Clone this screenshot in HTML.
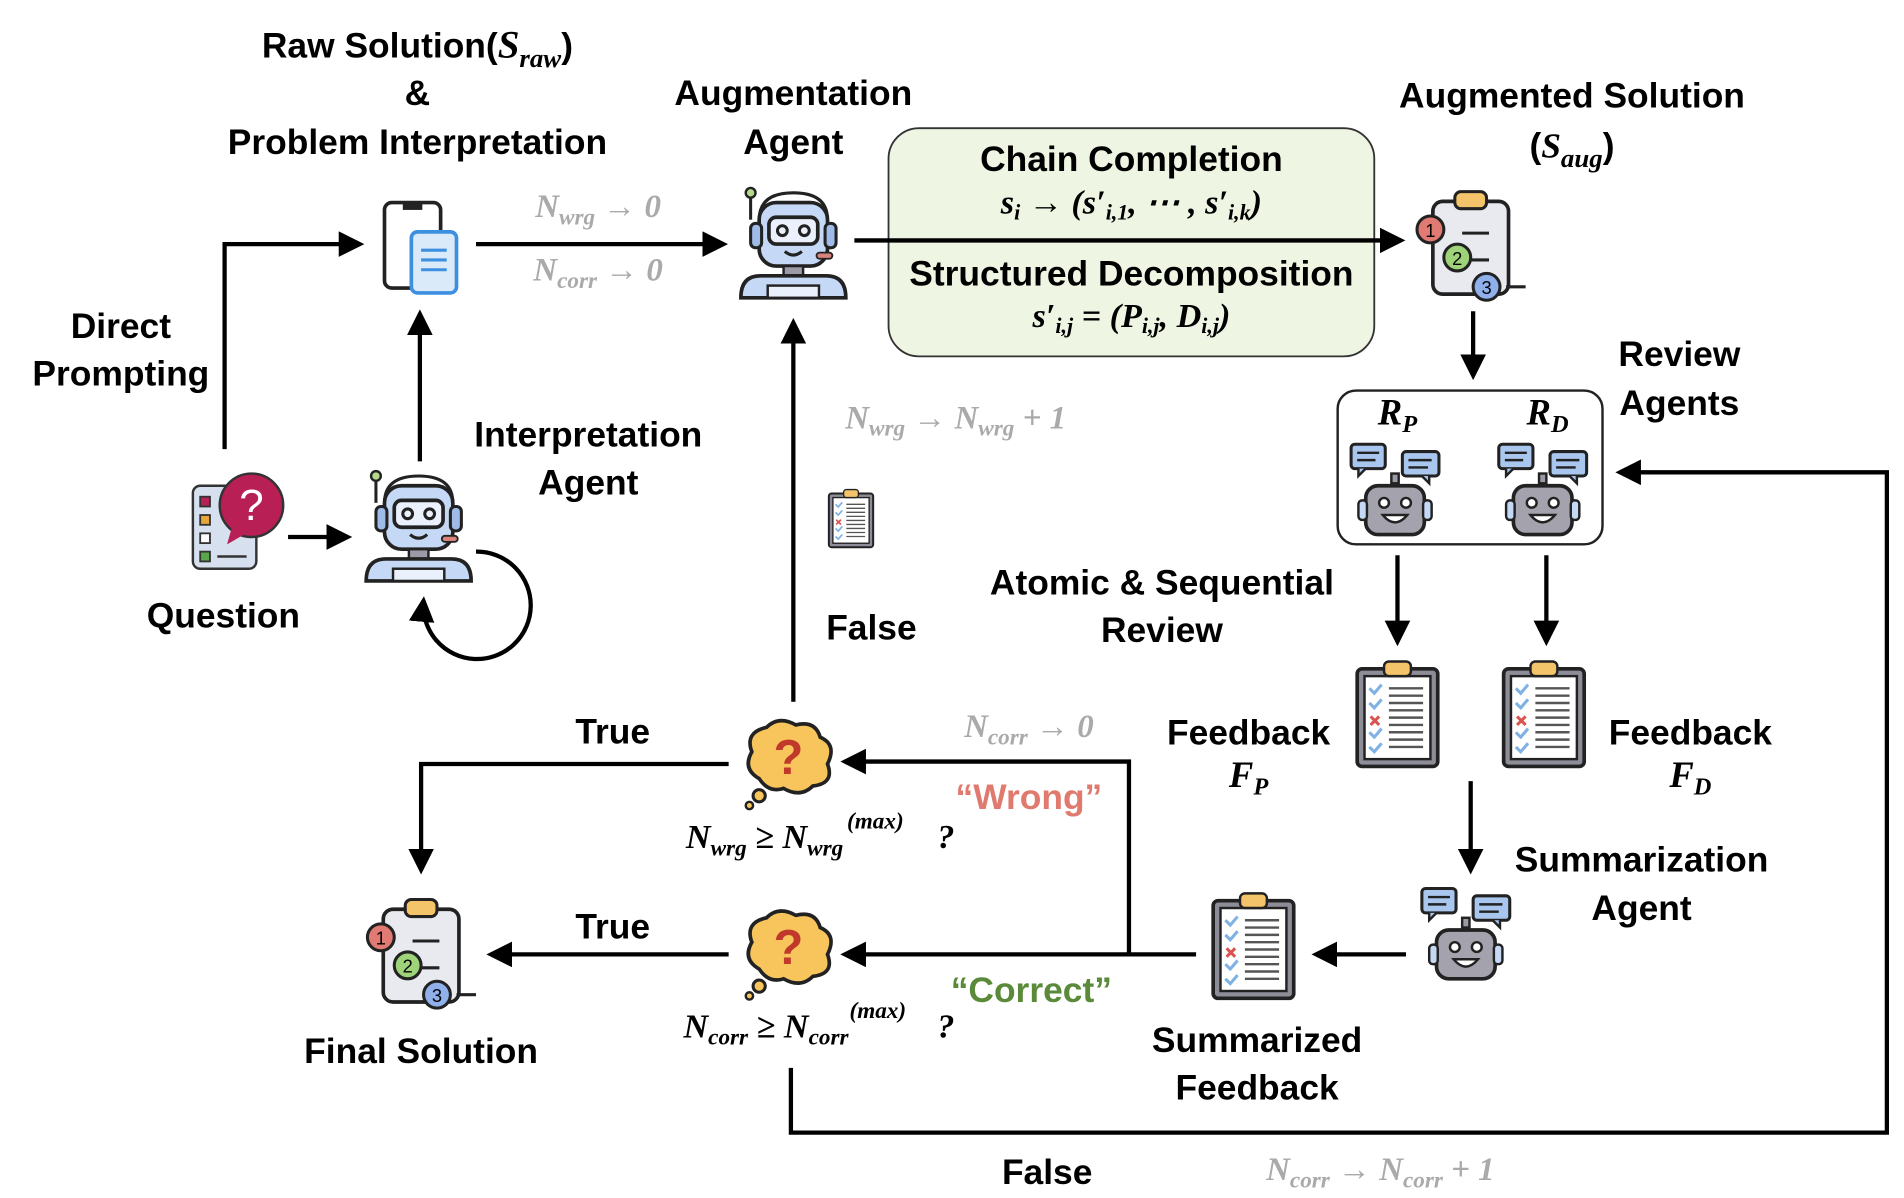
<!DOCTYPE html>
<html><head><meta charset="utf-8"><style>
html,body{margin:0;padding:0;background:#fff;}
svg{display:block;}
.t{font-family:"Comic Sans MS","Liberation Sans",sans-serif;font-size:29px;font-weight:bold;fill:#000;text-anchor:middle;}
.m{font-family:"Liberation Serif",serif;font-style:italic;font-weight:bold;text-anchor:middle;}
.g{fill:#aaa;}
.ln{stroke:#000;stroke-width:3.5;fill:none;}
</style></head><body>
<svg width="1904" height="1198" viewBox="0 0 1560 981.6" xmlns="http://www.w3.org/2000/svg">
<defs>
<marker id="ar" markerWidth="6" markerHeight="6" refX="5" refY="3" orient="auto" markerUnits="strokeWidth"><path d="M0,0 L6,3 L0,6 z" fill="#000"/></marker>
<g id="robot">
 <line x1="10" y1="12" x2="10" y2="30" stroke="#222" stroke-width="2.5"/>
 <circle cx="10" cy="8" r="4" fill="#b7d98b" stroke="#222" stroke-width="2"/>
 <path d="M17,30 Q17,8 45,8 Q73,8 73,30" fill="none" stroke="#222" stroke-width="2.5"/>
 <rect x="17" y="16" width="56" height="52" rx="14" fill="#c5d8f5" stroke="#222" stroke-width="3"/>
 <rect x="10" y="33" width="9" height="20" rx="4" fill="#9fbbe8" stroke="#222" stroke-width="2.5"/>
 <rect x="71" y="33" width="9" height="20" rx="4" fill="#9fbbe8" stroke="#222" stroke-width="2.5"/>
 <rect x="25" y="28" width="40" height="22" rx="6" fill="#eaf1fc" stroke="#222" stroke-width="3"/>
 <circle cx="36" cy="39" r="4" fill="none" stroke="#222" stroke-width="2.5"/>
 <circle cx="54" cy="39" r="4" fill="none" stroke="#222" stroke-width="2.5"/>
 <path d="M38,56 Q45,62 52,56" fill="none" stroke="#222" stroke-width="2.5"/>
 <rect x="64" y="57" width="13" height="5" rx="2.5" fill="#d8847c" stroke="#222" stroke-width="1.5"/>
 <rect x="37" y="68" width="16" height="8" fill="#9d9aa8" stroke="#222" stroke-width="2"/>
 <path d="M2,94 Q2,76 18,76 L72,76 Q88,76 88,94 Z" fill="#c5d8f5" stroke="#222" stroke-width="3"/>
 <rect x="24" y="84" width="42" height="10" fill="#eaf1fc" stroke="#222" stroke-width="2"/>
</g>
<g id="grob">
 <rect x="2" y="2" width="28" height="20" rx="3" fill="#a9c6ee" stroke="#222" stroke-width="2.5"/>
 <path d="M8,22 L8,28 L14,22" fill="#a9c6ee" stroke="#222" stroke-width="2"/>
 <line x1="7" y1="9" x2="25" y2="9" stroke="#222" stroke-width="2"/><line x1="7" y1="15" x2="22" y2="15" stroke="#222" stroke-width="2"/>
 <rect x="44" y="8" width="30" height="20" rx="3" fill="#a9c6ee" stroke="#222" stroke-width="2.5"/>
 <path d="M66,28 L66,34 L60,28" fill="#a9c6ee" stroke="#222" stroke-width="2"/>
 <line x1="49" y1="15" x2="68" y2="15" stroke="#222" stroke-width="2"/><line x1="49" y1="21" x2="65" y2="21" stroke="#222" stroke-width="2"/>
 <rect x="35" y="26" width="6" height="8" fill="#9d9aa8" stroke="#222" stroke-width="2"/>
 <rect x="14" y="36" width="48" height="40" rx="10" fill="#a4a3ad" stroke="#222" stroke-width="3"/>
 <rect x="8" y="48" width="7" height="16" rx="3" fill="#c5d8f5" stroke="#222" stroke-width="2"/>
 <rect x="61" y="48" width="7" height="16" rx="3" fill="#c5d8f5" stroke="#222" stroke-width="2"/>
 <circle cx="29" cy="50" r="4" fill="#fff" stroke="#222" stroke-width="2"/>
 <circle cx="47" cy="50" r="4" fill="#fff" stroke="#222" stroke-width="2"/>
 <path d="M28,60 Q38,72 48,60 Z" fill="#fff" stroke="#222" stroke-width="2"/>
</g>
<g id="clipnum">
 <rect x="14" y="10" width="62" height="76" rx="8" fill="#e8eaf0" stroke="#222" stroke-width="3"/>
 <rect x="32" y="2" width="26" height="14" rx="5" fill="#f3c46a" stroke="#222" stroke-width="2.5"/>
 <line x1="38" y1="36" x2="60" y2="36" stroke="#222" stroke-width="2.5"/>
 <line x1="38" y1="58" x2="60" y2="58" stroke="#222" stroke-width="2.5"/>
 <circle cx="12" cy="33" r="11" fill="#e07a72" stroke="#222" stroke-width="2.5"/>
 <text x="12" y="39" font-size="15" font-family="Liberation Sans" text-anchor="middle">1</text>
 <circle cx="34" cy="56" r="11" fill="#9fd37a" stroke="#222" stroke-width="2.5"/>
 <text x="34" y="62" font-size="15" font-family="Liberation Sans" text-anchor="middle">2</text>
 <circle cx="58" cy="80" r="11" fill="#8fb0ea" stroke="#222" stroke-width="2.5"/>
 <text x="58" y="86" font-size="15" font-family="Liberation Sans" text-anchor="middle">3</text>
 <line x1="74" y1="80" x2="90" y2="80" stroke="#222" stroke-width="2.5"/>
</g>
<g id="check">
 <rect x="2" y="8" width="66" height="80" rx="4" fill="#8d8d98" stroke="#222" stroke-width="3"/>
 <rect x="8" y="14" width="54" height="68" fill="#fff" stroke="#222" stroke-width="2"/>
 <rect x="24" y="2" width="22" height="12" rx="4" fill="#f3c46a" stroke="#222" stroke-width="2"/>
 <g stroke="#7fb1e3" stroke-width="2.5" fill="none">
  <path d="M12,24 l4,4 l6,-7"/><path d="M12,36 l4,4 l6,-7"/><path d="M12,60 l4,4 l6,-7"/><path d="M12,72 l4,4 l6,-7"/></g>
 <path d="M13,47 l7,7 M20,47 l-7,7" stroke="#d9534f" stroke-width="2.5"/>
 <g stroke="#555" stroke-width="2"><line x1="28" y1="24" x2="56" y2="24"/><line x1="28" y1="30" x2="56" y2="30"/><line x1="28" y1="36" x2="56" y2="36"/><line x1="28" y1="42" x2="56" y2="42"/><line x1="28" y1="48" x2="56" y2="48"/><line x1="28" y1="54" x2="56" y2="54"/><line x1="28" y1="60" x2="56" y2="60"/><line x1="28" y1="66" x2="56" y2="66"/><line x1="28" y1="72" x2="56" y2="72"/></g>
</g>
<g id="bubble">
 <path d="M14,50 Q0,42 8,28 Q2,12 20,8 Q30,-2 44,6 Q60,2 64,16 Q78,22 70,38 Q76,54 58,56 Q48,66 34,58 Q22,62 14,50 Z" fill="#f7c55c" stroke="#222" stroke-width="3"/>
 <circle cx="14" cy="64" r="5" fill="#f7c55c" stroke="#222" stroke-width="2.5"/>
 <circle cx="6" cy="72" r="3" fill="#f7c55c" stroke="#222" stroke-width="2"/>
 <text x="38" y="46" font-size="40" font-family="Liberation Sans" font-weight="bold" text-anchor="middle" fill="#c0392b">?</text>
</g>
</defs>

<text class="t" x="342" y="47">Raw Solution(<tspan class="m" font-size="32">S</tspan><tspan class="m" font-size="22" dy="8">raw</tspan><tspan dy="-8">)</tspan></text>
<text class="t" x="342" y="86">&amp;</text>
<text class="t" x="342" y="126">Problem Interpretation</text>
<text class="t" x="650" y="86">Augmentation</text>
<text class="t" x="650" y="126">Agent</text>
<text class="t" x="1288" y="88">Augmented Solution</text>
<text class="t" x="1288" y="129">(<tspan class="m">S</tspan><tspan class="m" font-size="22" dy="8">aug</tspan><tspan dy="-8">)</tspan></text>

<rect x="315" y="166" width="46" height="70" rx="6" fill="#fff" stroke="#222" stroke-width="3"/>
<rect x="330" y="166" width="16" height="6" fill="#222"/>
<rect x="337" y="190" width="37" height="50" rx="5" fill="#dbeaf9" stroke="#3d8fe0" stroke-width="3"/>
<g stroke="#3d8fe0" stroke-width="2.5"><line x1="345" y1="205" x2="366" y2="205"/><line x1="345" y1="213" x2="366" y2="213"/><line x1="345" y1="221" x2="366" y2="221"/></g>

<line class="ln" x1="390" y1="200" x2="593" y2="200" marker-end="url(#ar)"/>
<text class="m g" x="490" y="178" font-size="27">N<tspan font-size="19" dy="6">wrg</tspan><tspan dy="-6"> → 0</tspan></text>
<text class="m g" x="490" y="230" font-size="27">N<tspan font-size="19" dy="6">corr</tspan><tspan dy="-6"> → 0</tspan></text>

<use href="#robot" x="605" y="150"/>

<rect x="728" y="105" width="398" height="187" rx="25" fill="#eef5e3" stroke="#333" stroke-width="1.5"/>
<line class="ln" x1="700" y1="197" x2="1148" y2="197" marker-end="url(#ar)"/>
<text class="t" x="927" y="140" font-size="29">Chain Completion</text>
<text class="m" x="927" y="175" font-size="28">s<tspan font-size="18" dy="5">i</tspan><tspan dy="-5"> → (s′</tspan><tspan font-size="18" dy="5">i,1</tspan><tspan dy="-5">, ⋯ , s′</tspan><tspan font-size="18" dy="5">i,k</tspan><tspan dy="-5">)</tspan></text>
<text class="t" x="927" y="234" font-size="29">Structured Decomposition</text>
<text class="m" x="927" y="268" font-size="28">s′<tspan font-size="18" dy="5">i,j</tspan><tspan dy="-5"> = (P</tspan><tspan font-size="18" dy="5">i,j</tspan><tspan dy="-5">, D</tspan><tspan font-size="18" dy="5">i,j</tspan><tspan dy="-5">)</tspan></text>

<use href="#clipnum" x="1160" y="155"/>
<line class="ln" x1="1207" y1="255" x2="1207" y2="308" marker-end="url(#ar)"/>

<rect x="1096" y="320" width="217" height="126" rx="15" fill="#fff" stroke="#222" stroke-width="2"/>
<text class="m" x="1145" y="348" font-size="30">R<tspan font-size="20" dy="6">P</tspan></text>
<text class="m" x="1268" y="348" font-size="30">R<tspan font-size="20" dy="6">D</tspan></text>
<use href="#grob" x="1105" y="362"/>
<use href="#grob" x="1226" y="362"/>
<text class="t" x="1376" y="300">Review</text>
<text class="t" x="1376" y="340">Agents</text>

<line class="ln" x1="1145" y1="455" x2="1145" y2="526" marker-end="url(#ar)"/>
<line class="ln" x1="1267" y1="455" x2="1267" y2="526" marker-end="url(#ar)"/>
<use href="#check" x="1110" y="540"/>
<use href="#check" x="1230" y="540"/>
<text class="t" x="952" y="487">Atomic &amp; Sequential</text>
<text class="t" x="952" y="526">Review</text>
<text class="t" x="1023" y="610">Feedback</text>
<text class="m" x="1023" y="645" font-size="30">F<tspan font-size="20" dy="6">P</tspan></text>
<text class="t" x="1385" y="610">Feedback</text>
<text class="m" x="1385" y="645" font-size="30">F<tspan font-size="20" dy="6">D</tspan></text>

<line class="ln" x1="1205" y1="640" x2="1205" y2="713" marker-end="url(#ar)"/>
<use href="#grob" x="1163" y="726"/>
<text class="t" x="1345" y="714">Summarization</text>
<text class="t" x="1345" y="754">Agent</text>
<line class="ln" x1="1152" y1="782" x2="1078" y2="782" marker-end="url(#ar)"/>
<use href="#check" x="992" y="730"/>
<text class="t" x="1030" y="862">Summarized</text>
<text class="t" x="1030" y="901">Feedback</text>

<line class="ln" x1="980" y1="782" x2="692" y2="782" marker-end="url(#ar)"/>
<polyline class="ln" points="925,782 925,624 692,624" marker-end="url(#ar)"/>
<text class="m g" x="843" y="604" font-size="27">N<tspan font-size="19" dy="6">corr</tspan><tspan dy="-6"> → 0</tspan></text>
<text class="t" x="843" y="663" style="fill:#e07a6e">“Wrong”</text>
<text class="t" x="845" y="821" style="fill:#5a8a3a">“Correct”</text>

<use href="#bubble" x="608" y="588"/>
<use href="#bubble" x="608" y="744"/>
<text class="m" x="562" y="695" font-size="28" style="text-anchor:start">N<tspan font-size="19" dy="6">wrg</tspan><tspan dy="-6"> ≥ N</tspan><tspan font-size="19" dy="6">wrg</tspan></text>
<text class="m" x="694" y="679" font-size="19" style="text-anchor:start">(max)</text>
<text class="m" x="768" y="695" font-size="28" style="text-anchor:start">?</text>
<text class="m" x="560" y="850" font-size="28" style="text-anchor:start">N<tspan font-size="19" dy="6">corr</tspan><tspan dy="-6"> ≥ N</tspan><tspan font-size="19" dy="6">corr</tspan></text>
<text class="m" x="696" y="834" font-size="19" style="text-anchor:start">(max)</text>
<text class="m" x="768" y="850" font-size="28" style="text-anchor:start">?</text>

<polyline class="ln" points="597,626 345,626 345,713" marker-end="url(#ar)"/>
<text class="t" x="502" y="609">True</text>
<line class="ln" x1="597" y1="782" x2="402" y2="782" marker-end="url(#ar)"/>
<text class="t" x="502" y="769">True</text>
<use href="#clipnum" x="300" y="735"/>
<text class="t" x="345" y="871">Final Solution</text>

<line class="ln" x1="650" y1="575" x2="650" y2="264" marker-end="url(#ar)"/>
<text class="t" x="714" y="524">False</text>
<text class="m g" x="783" y="351" font-size="27">N<tspan font-size="19" dy="6">wrg</tspan><tspan dy="-6"> → N</tspan><tspan font-size="19" dy="6">wrg</tspan><tspan dy="-6"> + 1</tspan></text>
<use href="#check" transform="translate(678,400) scale(0.55)"/>

<polyline class="ln" points="648,875 648,928 1546,928 1546,387 1327,387" marker-end="url(#ar)"/>
<text class="t" x="858" y="970">False</text>
<text class="m g" x="1131" y="967" font-size="27">N<tspan font-size="19" dy="6">corr</tspan><tspan dy="-6"> → N</tspan><tspan font-size="19" dy="6">corr</tspan><tspan dy="-6"> + 1</tspan></text>

<rect x="158" y="398" width="52" height="68" rx="6" fill="#d7e0ee" stroke="#333" stroke-width="2"/>
<rect x="164" y="407" width="8" height="8" fill="#b81f55" stroke="#333" stroke-width="1.5"/>
<rect x="164" y="422" width="8" height="8" fill="#e8a73a" stroke="#333" stroke-width="1.5"/>
<rect x="164" y="437" width="8" height="8" fill="#fff" stroke="#333" stroke-width="1.5"/>
<rect x="164" y="452" width="8" height="8" fill="#5aa64a" stroke="#333" stroke-width="1.5"/>
<line x1="178" y1="456" x2="202" y2="456" stroke="#333" stroke-width="2"/>
<circle cx="206" cy="414" r="26" fill="#b81f55" stroke="#333" stroke-width="2"/>
<path d="M190,432 L186,446 L200,438 Z" fill="#b81f55"/>
<text x="206" y="426" font-size="36" font-family="Liberation Sans" fill="#fff" text-anchor="middle">?</text>
<text class="t" x="183" y="514">Question</text>
<line class="ln" x1="236" y1="440" x2="285" y2="440" marker-end="url(#ar)"/>
<use href="#robot" x="298" y="382"/>
<path d="M390,452 A44,44 0 1 1 347,492" class="ln" marker-end="url(#ar)"/>
<text class="t" x="482" y="366">Interpretation</text>
<text class="t" x="482" y="405">Agent</text>
<line class="ln" x1="344" y1="378" x2="344" y2="257" marker-end="url(#ar)"/>

<polyline class="ln" points="184,368 184,200 295,200" marker-end="url(#ar)"/>
<text class="t" x="99" y="277">Direct</text>
<text class="t" x="99" y="316">Prompting</text>
</svg>
</body></html>
